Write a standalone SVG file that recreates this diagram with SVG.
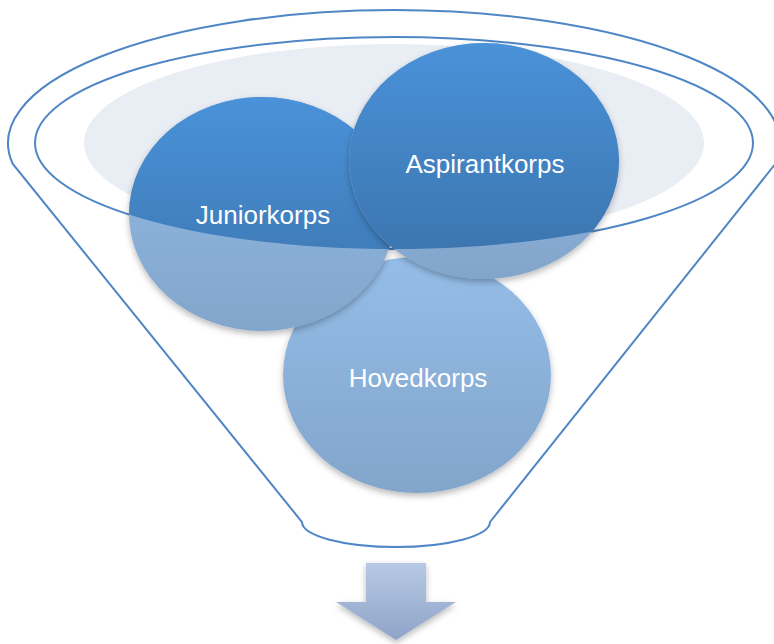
<svg xmlns="http://www.w3.org/2000/svg" width="774" height="644" viewBox="0 0 774 644">
  <style>
    .funnel { fill: none; stroke: #4f86c6; stroke-width: 2; }
    .label { fill: #ffffff; font-family: "Liberation Sans", Arial, sans-serif; font-size: 26px; text-anchor: middle; }
  </style>
  <defs>
    <linearGradient id="dark" x1="0" y1="0" x2="0" y2="1">
      <stop offset="0" stop-color="#4a92d9"/>
      <stop offset="1" stop-color="#3a72aa"/>
    </linearGradient>
    <linearGradient id="light" x1="0" y1="0" x2="0" y2="1">
      <stop offset="0" stop-color="#94bde7"/>
      <stop offset="1" stop-color="#82a5cb"/>
    </linearGradient>
    <linearGradient id="arrowGrad" x1="0" y1="0" x2="0" y2="1">
      <stop offset="0" stop-color="#b7c9e5"/>
      <stop offset="1" stop-color="#8ea4c7"/>
    </linearGradient>
    <clipPath id="innerClip">
      <ellipse cx="394" cy="143" rx="359" ry="106"/>
    </clipPath>
    <filter id="shadow" x="-20%" y="-20%" width="140%" height="140%">
      <feDropShadow dx="0" dy="3" stdDeviation="3" flood-color="#000000" flood-opacity="0.28"/>
    </filter>
  </defs>

  <g id="funnel">
    <ellipse cx="394" cy="143" rx="310" ry="99" fill="#e9edf4"/>
    <ellipse class="funnel" cx="394" cy="143" rx="359" ry="106"/>
    <path class="funnel" d="M 12.8 164 A 386 133 0 1 1 775.2 164 L 490 522 A 94 25 0 0 1 302 522 Z"/>
  </g>

  <g id="hovedkorps">
    <ellipse cx="417" cy="375" rx="134" ry="118" fill="url(#light)" filter="url(#shadow)"/>
    <text class="label" x="418" y="387">Hovedkorps</text>
  </g>

  <g id="juniorkorps">
    <ellipse cx="262" cy="214" rx="133" ry="117" fill="url(#light)" filter="url(#shadow)"/>
    <ellipse cx="262" cy="214" rx="133" ry="117" fill="url(#dark)" clip-path="url(#innerClip)"/>
    <text class="label" x="263" y="224">Juniorkorps</text>
  </g>

  <g id="aspirantkorps">
    <ellipse cx="484" cy="161" rx="135" ry="118" fill="url(#light)" filter="url(#shadow)"/>
    <ellipse cx="484" cy="161" rx="135" ry="118" fill="url(#dark)" clip-path="url(#innerClip)"/>
    <text class="label" x="485" y="173">Aspirantkorps</text>
  </g>

  <g id="connectors">
    <path d="M 366 563 L 426 563 L 426 602 L 456 602 L 396 640 L 336 602 L 366 602 Z" fill="url(#arrowGrad)" filter="url(#shadow)"/>
  </g>
</svg>
